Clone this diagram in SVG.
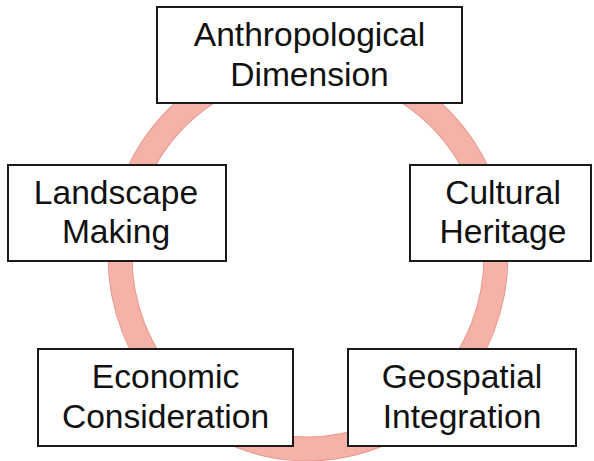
<svg xmlns="http://www.w3.org/2000/svg" width="594" height="461" viewBox="0 0 594 461">
  <style>
    .box { fill: #ffffff; stroke: #1a1a1a; stroke-width: 2; }
    .label { font-family: "Liberation Sans", Arial, sans-serif; font-size: 33.6px; fill: #111111; text-anchor: middle; }
  </style>
  <rect width="594" height="461" fill="#ffffff"/>

  <!-- cycle ring behind the boxes -->
  <g id="connectors">
    <ellipse cx="308" cy="256" rx="188" ry="193" fill="none" stroke="#E8998E" stroke-width="25"/>
    <ellipse cx="308" cy="256" rx="188" ry="193" fill="none" stroke="#F5B2A8" stroke-width="23"/>
  </g>

  <g id="anthropological-dimension">
    <rect class="box" x="157" y="7" width="305" height="96"/>
    <text class="label" x="309.5" y="46">Anthropological</text>
    <text class="label" x="309.5" y="86">Dimension</text>
  </g>

  <g id="landscape-making">
    <rect class="box" x="8" y="165" width="218" height="96"/>
    <text class="label" x="116" y="204">Landscape</text>
    <text class="label" x="116" y="243">Making</text>
  </g>

  <g id="cultural-heritage">
    <rect class="box" x="410" y="165" width="181" height="96"/>
    <text class="label" x="503" y="204">Cultural</text>
    <text class="label" x="503" y="243">Heritage</text>
  </g>

  <g id="economic-consideration">
    <rect class="box" x="38" y="349" width="255" height="97"/>
    <text class="label" x="165.5" y="388">Economic</text>
    <text class="label" x="165.5" y="428">Consideration</text>
  </g>

  <g id="geospatial-integration">
    <rect class="box" x="348" y="349" width="228" height="97"/>
    <text class="label" x="462" y="388">Geospatial</text>
    <text class="label" x="462" y="428">Integration</text>
  </g>
</svg>
